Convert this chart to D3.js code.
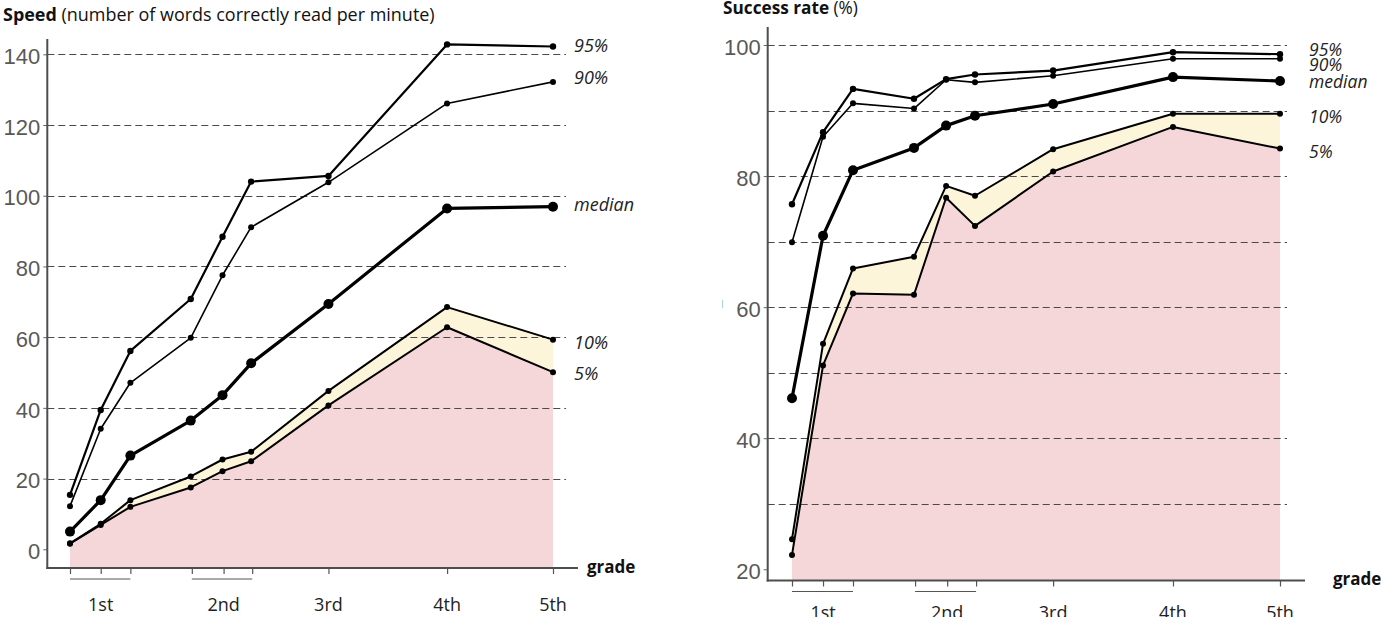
<!DOCTYPE html>
<html>
<head>
<meta charset="utf-8">
<script src="https://cdn.jsdelivr.net/npm/d3@7"></script>
<style>
  html, body { margin: 0; padding: 0; background: #fff; }
  svg { display: block; }
</style>
</head>
<body>
<svg id="chart" width="1381" height="617"></svg>
<script>
// ---------------- DATA ----------------
// measurement points along the school years (in grade units)
const pointX = [0.44, 0.73, 1.01, 1.58, 1.88, 2.15, 2.88, 4, 5];
// axis tick positions (sub-ticks for 1st and 2nd grade)
const tickX = [0.44, 0.73, 1.01, 1.59, 1.89, 2.16, 2.88, 4, 5];
const gradeLabels = ["1st", "2nd", "3rd", "4th", "5th"];
const gradeLabelX = [0.73, 1.89, 2.88, 4, 5];
const brackets = [[0.44, 1.01], [1.59, 2.16]];
const seriesNames = ["95%", "90%", "median", "10%", "5%"];

// Speed (number of words correctly read per minute)
const speedP95    = [15.4, 39.4, 56.1, 70.8, 88.4, 104.0, 105.6, 142.8, 142.2];
const speedP90    = [12.2, 34.1, 47.1, 59.8, 77.5, 91.1, 103.8, 126.1, 132.2];
const speedMedian = [5.0, 13.9, 26.5, 36.4, 43.6, 52.6, 69.4, 96.4, 96.9];
const speedP10    = [1.7, 7.2, 13.9, 20.6, 25.4, 27.6, 44.8, 68.5, 59.3];
const speedP5     = [1.6, 6.9, 12.0, 17.5, 22.1, 24.9, 40.7, 62.8, 50.1];
const speedTicks  = [0, 20, 40, 60, 80, 100, 120, 140];
const speedGrid   = [20, 40, 60, 80, 100, 120, 140];

// Success rate (%)
const successP95    = [75.7, 86.7, 93.3, 91.8, 94.8, 95.5, 96.1, 98.9, 98.6];
const successP90    = [69.9, 86.0, 91.1, 90.3, 94.7, 94.3, 95.3, 97.9, 97.9];
const successMedian = [46.1, 70.9, 80.9, 84.3, 87.7, 89.2, 91.0, 95.1, 94.5];
const successP10    = [24.6, 54.4, 65.9, 67.7, 78.5, 77.0, 84.1, 89.5, 89.5];
const successP5     = [22.2, 51.1, 62.1, 61.9, 76.7, 72.4, 80.7, 87.5, 84.2];
const successTicks  = [20, 40, 60, 80, 100];
const successGrid   = [30, 40, 50, 60, 70, 80, 90, 100];

// ---------------- LAYOUT ----------------
const svg = d3.select("#chart");
const PINK = "#f6d7d9", CREAM = "#fdf5da";

const panels = [
  {
    titleBold: "Speed", titleRest: " (number of words correctly read per minute)",
    titleX: 3, titleY: 21, titleWidth: 432,
    xRange: [70, 553], yDomain: [0, 140], yRange: [549.3, 54.3],
    axisX: 47.3, axisTop: 39, axisY: 568, axisRight: 578, gridRight: 566,
    ticks: speedTicks, grid: speedGrid,
    series: [speedP95, speedP90, speedMedian, speedP10, speedP5],
    labelX: 574, labelY: [52, 84, 211, 349, 380], labelSize: 18,
    gradeLabelY: 611, gradeTitleX: 587, gradeTitleY: 573
  },
  {
    titleBold: "Success rate", titleRest: " (%)",
    titleX: 723, titleY: 13.5, titleWidth: 135,
    xRange: [792, 1280], yDomain: [20, 100], yRange: [569.3, 45],
    axisX: 767.7, axisTop: 27, axisY: 580.5, axisRight: 1305, gridRight: 1287,
    ticks: successTicks, grid: successGrid,
    series: [successP95, successP90, successMedian, successP10, successP5],
    labelX: 1309, labelY: [56, 71, 88, 123, 158], labelSize: 17.5,
    gradeLabelY: 619, gradeTitleX: 1333, gradeTitleY: 585
  }
];

const lineWidths = [2.2, 1.6, 3.2, 2.0, 2.0];
const dotR = [3.2, 3.0, 5.0, 3.0, 3.0];

panels.forEach(p => {
  const g = svg.append("g");
  const x = d3.scaleLinear().domain([pointX[0], pointX[pointX.length - 1]]).range(p.xRange);
  const y = d3.scaleLinear().domain(p.yDomain).range(p.yRange);
  const bottom = p.axisY;

  // areas
  const [s95, s90, sMed, s10, s5] = p.series;
  const rows = pointX.map((v, i) => ({ x: v, p10: s10[i], p5: s5[i] }));
  g.append("path").datum(rows)
    .attr("d", d3.area().x(d => x(d.x)).y0(bottom).y1(d => y(d.p5)))
    .attr("fill", PINK);
  g.append("path").datum(rows)
    .attr("d", d3.area().x(d => x(d.x)).y0(d => y(d.p5)).y1(d => y(d.p10)))
    .attr("fill", CREAM);

  // grid
  g.selectAll(".grid").data(p.grid).enter().append("line")
    .attr("x1", p.axisX).attr("x2", p.gridRight)
    .attr("y1", d => Math.round(y(d)) + 0.5).attr("y2", d => Math.round(y(d)) + 0.5)
    .attr("stroke", "#4a4a4a").attr("stroke-width", 1)
    .attr("stroke-dasharray", "7,4");

  // y axis (ticks + labels)
  const yAxis = d3.axisLeft(y).tickValues(p.ticks).tickSize(4).tickPadding(3).tickFormat(d3.format("d"));
  const ya = g.append("g").attr("transform", `translate(${p.axisX},0)`).call(yAxis);
  ya.select(".domain").remove();
  ya.selectAll(".tick line").attr("stroke", "#666");
  ya.selectAll(".tick text")
    .attr("font-family", "'Liberation Sans', Arial, sans-serif")
    .attr("font-size", 22).attr("fill", "#595959").attr("dy", "0.42em");
  g.append("line").attr("x1", p.axisX).attr("x2", p.axisX)
    .attr("y1", p.axisTop).attr("y2", bottom + 1)
    .attr("stroke", "#4d4d4d").attr("stroke-width", 2);

  // x axis
  const xAxis = d3.axisBottom(x).tickValues(tickX).tickSize(6).tickFormat("");
  const xa = g.append("g").attr("transform", `translate(0,${bottom})`).call(xAxis);
  xa.select(".domain").remove();
  xa.selectAll(".tick line").attr("stroke", "#555").attr("stroke-width", 1.2);
  g.append("line").attr("x1", p.axisX - 1).attr("x2", p.axisRight)
    .attr("y1", bottom).attr("y2", bottom)
    .attr("stroke", "#4d4d4d").attr("stroke-width", 2);
  g.selectAll(".bracket").data(brackets).enter().append("line")
    .attr("x1", d => x(d[0])).attr("x2", d => x(d[1]))
    .attr("y1", bottom + 11).attr("y2", bottom + 11)
    .attr("stroke", "#555").attr("stroke-width", 1.2);
  g.selectAll(".glabel").data(gradeLabels).enter().append("text")
    .attr("x", (d, i) => x(gradeLabelX[i])).attr("y", p.gradeLabelY)
    .attr("text-anchor", "middle")
    .attr("font-family", "'Open Sans', sans-serif").attr("font-size", 18)
    .attr("fill", "#222").text(d => d);
  g.append("text").attr("x", p.gradeTitleX).attr("y", p.gradeTitleY)
    .attr("font-family", "'Open Sans', sans-serif").attr("font-size", 17)
    .attr("font-weight", "bold").attr("fill", "#111").text("grade");

  // lines and dots
  p.series.forEach((s, k) => {
    const pts = pointX.map((v, i) => [x(v), y(s[i])]);
    g.append("path").datum(pts)
      .attr("d", d3.line())
      .attr("fill", "none").attr("stroke", "#000")
      .attr("stroke-width", lineWidths[k]).attr("stroke-linejoin", "round");
    g.selectAll(null).data(pts).enter().append("circle")
      .attr("cx", d => d[0]).attr("cy", d => d[1]).attr("r", dotR[k]).attr("fill", "#000");
  });

  // series labels
  g.selectAll(".slabel").data(seriesNames).enter().append("text")
    .attr("x", p.labelX).attr("y", (d, i) => p.labelY[i])
    .attr("font-family", "'Open Sans', sans-serif").attr("font-style", "italic")
    .attr("font-size", p.labelSize).attr("fill", "#222").text(d => d);

  // title
  const t = g.append("text").attr("x", p.titleX).attr("y", p.titleY)
    .attr("font-family", "'Open Sans', sans-serif").attr("font-size", 16).attr("fill", "#111");
  t.append("tspan").attr("font-weight", "bold").text(p.titleBold);
  t.append("tspan").text(p.titleRest);
  const w = t.node().getComputedTextLength();
  if (w > 0) t.attr("font-size", 16 * p.titleWidth / w);
});

// small stray blue mark present in the original picture
svg.append("line").attr("x1", 722.5).attr("x2", 722.5).attr("y1", 300).attr("y2", 308)
  .attr("stroke", "#a9cdea").attr("stroke-width", 1);
</script>
</body>
</html>
